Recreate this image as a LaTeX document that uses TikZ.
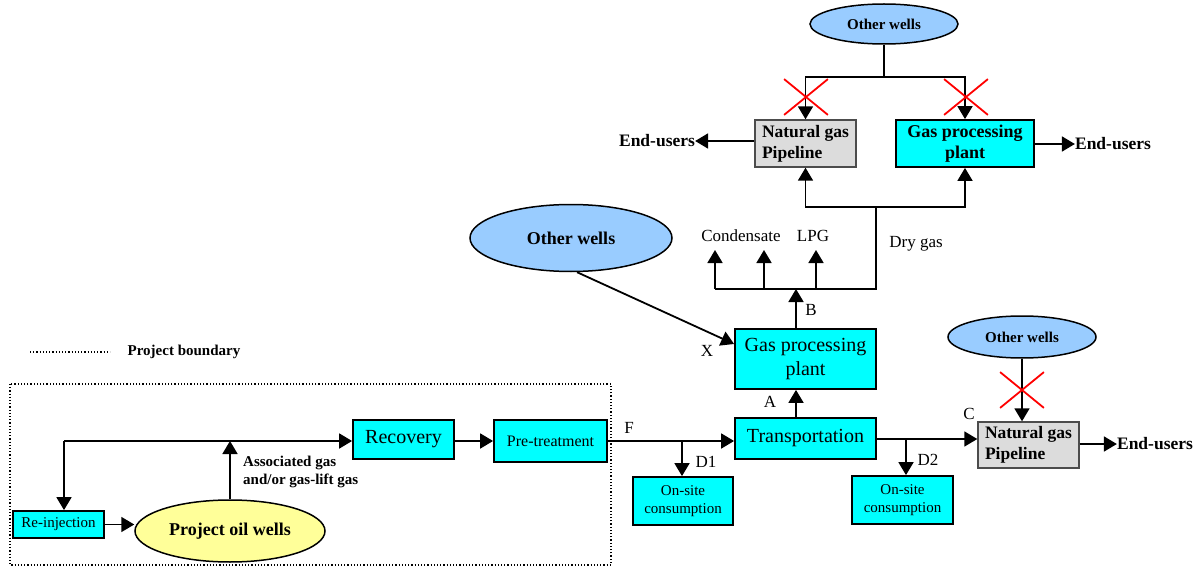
\documentclass[tikz,border=0pt]{standalone}
\usepackage{fontspec}
\setmainfont{Liberation Serif}
\usetikzlibrary{shapes.geometric,shapes.misc,arrows.meta}
\definecolor{cyanbox}{HTML}{00FFFF}
\definecolor{wellblue}{HTML}{99CCFF}
\definecolor{wellyellow}{HTML}{FFFF99}
\definecolor{pipegray}{HTML}{DCDCDC}
\newcommand{\fs}[1]{\fontsize{#1}{1.18\dimexpr#1pt\relax}\selectfont}
\tikzset{
  box/.style={draw, line width=1.8pt, fill=cyanbox, inner sep=0pt, align=center},
  pipebox/.style={draw=black!70, line width=1.4pt, fill=pipegray, inner sep=0pt, align=left, font=\fs{17.5}\bfseries},
  oval/.style={ellipse, draw, line width=1.5pt, inner sep=0pt},
  arr/.style={line width=1.8pt, -{Triangle[length=13pt,width=15pt]}},
  ln/.style={line width=1.8pt},
  xcross/.style={cross out, draw=red, line width=1.8pt, inner sep=0pt},
  lbl/.style={inner sep=0pt, font=\fs{17}},
  eu/.style={inner sep=0pt, font=\fs{17.5}\bfseries},
}
\begin{document}
\begin{tikzpicture}[x=1pt,y=-1pt]
\useasboundingbox (0,0) rectangle (1200,567);
% ---- top section
\node[oval, fill=wellblue, minimum width=148, minimum height=40, font=\fs{15}\bfseries] (ow1) at (884,24) {Other wells};
\node[pipebox, minimum width=101, minimum height=47] (ngp1) at (805.5,143.5) {Natural gas\\Pipeline};
\node[box, minimum width=138, minimum height=47, font=\fs{18}\bfseries] (gpp1) at (965,143.5) {Gas processing\\plant};
\node[eu] (eu1) at (657,141) {End-users};
\node[eu] (eu2) at (1113,144) {End-users};
\coordinate (j1) at (884,77);
\draw[ln] (ow1.south) -- (j1);
\draw[arr] (j1) -| (ngp1.north);
\draw[arr] (j1) -| (gpp1.north);
\node[xcross, minimum width=42, minimum height=34] (x1) at (806,97) {};
\node[xcross, minimum width=42, minimum height=34] (x2) at (966,97) {};
\draw[arr] (eu1.east -| ngp1.west) -- (eu1.east);
\draw[arr] (gpp1.east |- eu2) -- (eu2.west);
% ---- gas processing plant (middle)
\node[box, minimum width=141, minimum height=60, font=\fs{20}] (gpp2) at (805.5,359) {Gas processing\\plant};
\node[box, minimum width=141, minimum height=41, font=\fs{20}] (trans) at (805.5,438.5) {Transportation};
\coordinate (jb) at (796,289);
\coordinate (cL) at (715,289);
\coordinate (cR) at (876,289);
\coordinate (cT) at (876,207);
\coordinate (k1) at (715,250);
\coordinate (k2) at (764,250);
\coordinate (k3) at (816,250);
\draw[arr] (jb |- gpp2.north) -- (jb);
\draw[ln] (cL) -- (cR) -- (cT);
\draw[arr] (cT) -| (ngp1.south);
\draw[arr] (cT) -| (gpp1.south);
\draw[arr] (cL) -- (k1);
\draw[arr] (k2 |- cL) -- (k2);
\draw[arr] (k3 |- cL) -- (k3);
\node[lbl] (cond) at (741,236) {Condensate};
\node[lbl] (lpg) at (813,236) {LPG};
\node[lbl] (dry) at (916,244) {Dry gas};
\node[lbl] (lB) at (811,310) {B};
\node[lbl] (lA) at (770,402) {A};
\node[lbl] (lX) at (707,351) {X};
\draw[arr] (jb |- trans.north) -- (jb |- gpp2.south);
\node[oval, fill=wellblue, minimum width=202, minimum height=67, font=\fs{18}\bfseries] (ow2) at (571,238) {Other wells};
\draw[arr] (ow2.-80) -- ([yshift=15pt]gpp2.west);
% ---- bottom right
\node[box, minimum width=113, minimum height=42, font=\fs{16}] (pre) at (550.5,441) {Pre-treatment};
\node[box, minimum width=101, minimum height=39, font=\fs{20}] (rec) at (403.5,439.5) {Recovery};
\node[box, minimum width=100, minimum height=48, font=\fs{15}] (os1) at (683,501) {On-site\\consumption};
\node[box, minimum width=101, minimum height=48, font=\fs{15}] (os2) at (902.5,500) {On-site\\consumption};
\node[pipebox, minimum width=101, minimum height=46] (ngp2) at (1028.5,445) {Natural gas\\Pipeline};
\node[oval, fill=wellblue, minimum width=148, minimum height=42, font=\fs{15}\bfseries] (ow3) at (1022,337) {Other wells};
\node[eu] (eu3) at (1155,444) {End-users};
\coordinate (jd1) at (682,441);
\coordinate (jd2) at (906,439);
\draw[arr] (pre.east) -- (pre.east -| trans.west);
\draw[arr] (jd1) -- (jd1 |- os1.north);
\draw[arr] (trans.east |- jd2) -- (jd2 -| ngp2.west);
\draw[arr] (jd2) -- (jd2 |- os2.north);
\draw[arr] (ow3.south) -- (ow3.south |- ngp2.north);
\node[xcross, minimum width=42, minimum height=34] (x3) at (1022,390) {};
\draw[arr] (ngp2.east |- eu3) -- (eu3.west);
\node[lbl] (lF) at (629,428) {F};
\node[lbl] (lD1) at (706,462) {D1};
\node[lbl] (lD2) at (928,460) {D2};
\node[lbl] (lC) at (969,414) {C};
% ---- project boundary
\coordinate (lg1) at (30,352);
\coordinate (lg2) at (110,352);
\draw[line width=1.2pt, dotted] (lg1) -- (lg2);
\node[inner sep=0pt, font=\fs{15}\bfseries] (pb) at (184,352) {Project boundary};
\draw[line width=1.2pt, dotted] (10,384) rectangle (611,565);
\node[box, minimum width=91, minimum height=27, font=\fs{15}] (reinj) at (58.5,524.5) {Re-injection};
\node[oval, fill=wellyellow, minimum width=190, minimum height=62, font=\fs{18}\bfseries] (pow) at (230,531) {Project oil wells};
\coordinate (jr) at (64,441);
\coordinate (ja) at (230,441);
\draw[arr] (jr) -- (rec.west |- jr);
\draw[arr] (rec.east |- pre) -- (pre.west);
\draw[arr] (jr) -- (jr |- reinj.north);
\draw[arr] (pow.north) -- (ja);
\draw[arr] (reinj.east) -- (reinj.east -| pow.west);
\node[inner sep=0pt, anchor=west, align=left, font=\fs{15}\bfseries] (assoc) at (243,472) {Associated gas\\and/or gas-lift gas};
\end{tikzpicture}
\end{document}
